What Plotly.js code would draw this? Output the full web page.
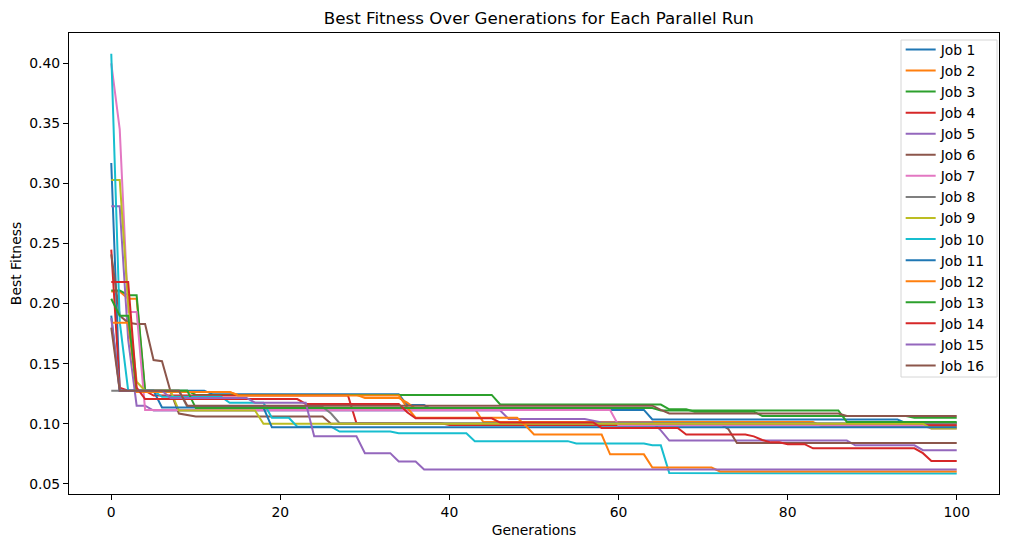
<!DOCTYPE html>
<html>
<head>
<meta charset="utf-8">
<script src="https://cdn.plot.ly/plotly-3.0.1.min.js"></script>
<style>
html,body{margin:0;padding:0;background:#fff;}
#chart{width:1010px;height:547px;}
</style>
</head>
<body>
<div id="chart"></div>
<script>
// Generations 0..100 (rows below hold 10 generations each)
const generations = [0,1,2,3,4,5,6,7,8,9,10,11,12,13,14,15,16,17,18,19,20,21,22,23,24,25,26,27,28,29,30,31,32,33,34,35,36,37,38,39,40,41,42,43,44,45,46,47,48,49,50,51,52,53,54,55,56,57,58,59,60,61,62,63,64,65,66,67,68,69,70,71,72,73,74,75,76,77,78,79,80,81,82,83,84,85,86,87,88,89,90,91,92,93,94,95,96,97,98,99,100];

const jobNames = ["Job 1","Job 2","Job 3","Job 4","Job 5","Job 6","Job 7","Job 8","Job 9","Job 10","Job 11","Job 12","Job 13","Job 14","Job 15","Job 16"];

const job1 = [
0.317,0.1275,0.1275,0.1275,0.1275,0.1275,0.1275,0.1275,0.1275,0.1275,
0.1275,0.1275,0.1245,0.1245,0.1245,0.1245,0.1245,0.1245,0.1245,0.1245,
0.1245,0.1245,0.1245,0.1245,0.1245,0.1245,0.1245,0.1245,0.1245,0.1245,
0.1245,0.1245,0.1245,0.1245,0.1245,0.1155,0.1155,0.1155,0.1115,0.1115,
0.1115,0.1115,0.1115,0.1115,0.1115,0.1115,0.1115,0.1115,0.1115,0.1115,
0.1115,0.1115,0.1115,0.1115,0.1115,0.1115,0.1115,0.1115,0.1115,0.1115,
0.1115,0.1115,0.1115,0.1115,0.1035,0.1035,0.1035,0.1035,0.1035,0.1035,
0.1035,0.1035,0.1035,0.1035,0.1035,0.1035,0.1035,0.1035,0.1035,0.1035,
0.1035,0.1035,0.1035,0.1035,0.1035,0.1035,0.1035,0.1035,0.1035,0.1035,
0.1035,0.1035,0.1035,0.1035,0.1005,0.1005,0.1005,0.1005,0.1005,0.1005,
0.1005];

const job2 = [
0.21,0.21,0.204,0.204,0.1265,0.1265,0.1265,0.1265,0.1265,0.1265,
0.1265,0.1265,0.1265,0.1265,0.1265,0.124,0.124,0.124,0.124,0.124,
0.124,0.124,0.124,0.124,0.124,0.124,0.124,0.124,0.124,0.124,
0.1215,0.1215,0.1215,0.1215,0.1215,0.1175,0.1125,0.1125,0.1125,0.1125,
0.1125,0.1125,0.1125,0.1125,0.1015,0.1015,0.1015,0.1015,0.1015,0.1015,
0.1015,0.1015,0.1015,0.1015,0.1015,0.1015,0.1015,0.1015,0.1015,0.1015,
0.1015,0.1015,0.1015,0.1015,0.1015,0.1015,0.1015,0.1015,0.1015,0.1015,
0.1015,0.1015,0.1015,0.1015,0.1015,0.1015,0.1015,0.1015,0.1015,0.1015,
0.1015,0.1015,0.1015,0.1015,0.098,0.098,0.098,0.098,0.098,0.098,
0.098,0.098,0.098,0.098,0.098,0.098,0.098,0.098,0.098,0.098,
0.098];

const job3 = [
0.211,0.211,0.207,0.207,0.1275,0.1275,0.1275,0.1275,0.1275,0.1275,
0.124,0.124,0.124,0.124,0.124,0.124,0.124,0.124,0.124,0.124,
0.124,0.124,0.124,0.124,0.124,0.124,0.124,0.124,0.124,0.124,
0.124,0.124,0.124,0.124,0.124,0.124,0.124,0.124,0.124,0.124,
0.124,0.124,0.124,0.124,0.124,0.124,0.116,0.116,0.116,0.116,
0.116,0.116,0.116,0.116,0.116,0.116,0.116,0.116,0.116,0.116,
0.116,0.116,0.116,0.116,0.116,0.116,0.112,0.112,0.112,0.110,
0.110,0.110,0.110,0.110,0.110,0.110,0.110,0.1065,0.1065,0.1065,
0.1065,0.1065,0.1065,0.1065,0.1065,0.1065,0.1065,0.1065,0.1065,0.1065,
0.1065,0.1065,0.1065,0.1065,0.1065,0.105,0.105,0.105,0.105,0.105,
0.105];

const job4 = [
0.245,0.13,0.1275,0.1275,0.1275,0.1235,0.1235,0.1235,0.1235,0.1235,
0.1235,0.1235,0.1235,0.1235,0.1235,0.1235,0.1235,0.1235,0.1235,0.1235,
0.1235,0.1235,0.1235,0.1235,0.1235,0.1235,0.1235,0.1235,0.1235,0.1003,
0.1003,0.1003,0.1003,0.1003,0.1003,0.1003,0.1003,0.1003,0.1003,0.1003,
0.099,0.099,0.099,0.099,0.099,0.099,0.099,0.099,0.099,0.099,
0.099,0.099,0.099,0.099,0.099,0.099,0.099,0.099,0.099,0.099,
0.099,0.099,0.099,0.099,0.099,0.099,0.099,0.099,0.099,0.099,
0.099,0.099,0.099,0.099,0.099,0.099,0.099,0.099,0.099,0.099,
0.099,0.099,0.099,0.099,0.099,0.099,0.099,0.099,0.099,0.099,
0.099,0.099,0.099,0.099,0.099,0.099,0.099,0.099,0.099,0.099,
0.099];

const job5 = [
0.281,0.281,0.17,0.115,0.115,0.111,0.111,0.111,0.111,0.111,
0.111,0.111,0.111,0.111,0.111,0.111,0.111,0.111,0.111,0.111,
0.111,0.111,0.111,0.111,0.111,0.111,0.111,0.111,0.111,0.111,
0.111,0.111,0.111,0.111,0.111,0.111,0.111,0.111,0.111,0.111,
0.111,0.111,0.111,0.111,0.111,0.111,0.111,0.104,0.104,0.104,
0.104,0.104,0.104,0.104,0.104,0.104,0.104,0.1025,0.101,0.101,
0.101,0.101,0.101,0.101,0.101,0.0945,0.086,0.086,0.086,0.086,
0.086,0.086,0.086,0.086,0.086,0.086,0.086,0.086,0.086,0.086,
0.086,0.086,0.086,0.086,0.086,0.086,0.086,0.086,0.082,0.082,
0.082,0.082,0.082,0.082,0.082,0.082,0.078,0.078,0.078,0.078,
0.078];

const job6 = [
0.241,0.19,0.184,0.183,0.183,0.153,0.152,0.127,0.1085,0.107,
0.106,0.106,0.106,0.106,0.106,0.106,0.106,0.106,0.106,0.106,
0.106,0.106,0.106,0.106,0.106,0.106,0.100,0.100,0.100,0.100,
0.100,0.100,0.100,0.100,0.100,0.100,0.100,0.100,0.100,0.100,
0.100,0.100,0.100,0.100,0.100,0.100,0.100,0.100,0.100,0.100,
0.100,0.100,0.100,0.100,0.100,0.100,0.100,0.100,0.100,0.100,
0.100,0.100,0.100,0.100,0.100,0.100,0.100,0.100,0.100,0.100,
0.100,0.100,0.100,0.0955,0.084,0.084,0.084,0.084,0.084,0.084,
0.084,0.084,0.084,0.084,0.084,0.084,0.084,0.084,0.084,0.084,
0.084,0.084,0.084,0.084,0.084,0.084,0.084,0.084,0.084,0.084,
0.084];

const job7 = [
0.40,0.345,0.193,0.193,0.1115,0.1115,0.1115,0.1115,0.1115,0.1115,
0.1115,0.1115,0.1115,0.1115,0.1115,0.1115,0.1115,0.1115,0.1115,0.1115,
0.1115,0.1115,0.1115,0.1115,0.1115,0.1115,0.1115,0.1115,0.1115,0.1115,
0.1115,0.1115,0.1115,0.1115,0.1115,0.1115,0.1115,0.1115,0.1115,0.1115,
0.1115,0.1115,0.1115,0.1115,0.1115,0.1115,0.1115,0.1115,0.1115,0.1115,
0.1115,0.1115,0.1115,0.1115,0.1115,0.1115,0.1115,0.1115,0.1115,0.1115,
0.0985,0.0985,0.0985,0.0985,0.0985,0.0985,0.0985,0.0985,0.0985,0.0985,
0.0985,0.0985,0.0985,0.0985,0.0985,0.0985,0.0985,0.0985,0.0985,0.0985,
0.0985,0.0985,0.0985,0.0985,0.0985,0.0985,0.0985,0.0985,0.0985,0.0985,
0.0985,0.0985,0.0985,0.0985,0.0985,0.0985,0.0985,0.096,0.096,0.096,
0.096];

const job8 = [
0.1275,0.1275,0.1275,0.1275,0.1275,0.1275,0.1275,0.1275,0.1275,0.114,
0.114,0.114,0.114,0.114,0.114,0.114,0.114,0.114,0.114,0.114,
0.114,0.114,0.114,0.114,0.114,0.114,0.1085,0.1005,0.1005,0.1005,
0.1005,0.1005,0.1005,0.1005,0.1005,0.1005,0.1005,0.1005,0.1005,0.1005,
0.1005,0.1005,0.1005,0.1005,0.1005,0.1005,0.1005,0.1005,0.1005,0.1005,
0.1005,0.1005,0.1005,0.1005,0.1005,0.1005,0.1005,0.1005,0.1005,0.1005,
0.1005,0.1005,0.1005,0.1005,0.1005,0.1005,0.1005,0.1005,0.1005,0.1005,
0.1005,0.1005,0.1005,0.1005,0.1005,0.1005,0.1005,0.1005,0.1005,0.1005,
0.1005,0.1005,0.1005,0.1005,0.1005,0.1005,0.1005,0.1005,0.1005,0.1005,
0.1005,0.1005,0.1005,0.1005,0.1005,0.1005,0.1005,0.1005,0.1005,0.1005,
0.1005];

const job9 = [
0.303,0.303,0.2,0.135,0.1275,0.1275,0.1275,0.1275,0.111,0.111,
0.111,0.111,0.111,0.111,0.111,0.111,0.111,0.111,0.100,0.100,
0.100,0.100,0.100,0.100,0.100,0.100,0.100,0.100,0.100,0.100,
0.100,0.100,0.100,0.100,0.100,0.100,0.100,0.100,0.100,0.100,
0.100,0.100,0.100,0.100,0.100,0.100,0.100,0.100,0.100,0.100,
0.100,0.100,0.100,0.100,0.100,0.100,0.100,0.100,0.100,0.100,
0.100,0.100,0.100,0.100,0.100,0.100,0.100,0.100,0.100,0.100,
0.100,0.100,0.100,0.100,0.100,0.100,0.100,0.100,0.100,0.100,
0.100,0.100,0.100,0.100,0.100,0.100,0.100,0.100,0.100,0.100,
0.100,0.100,0.100,0.100,0.100,0.100,0.100,0.096,0.096,0.096,
0.096];

const job10 = [
0.408,0.185,0.1275,0.1275,0.1275,0.1275,0.1225,0.1225,0.1225,0.1225,
0.1225,0.1225,0.1225,0.1225,0.1175,0.1175,0.1175,0.1175,0.1175,0.105,
0.105,0.105,0.0975,0.0975,0.0975,0.0975,0.0975,0.0935,0.0935,0.0935,
0.0935,0.0935,0.0935,0.0935,0.092,0.092,0.092,0.092,0.092,0.092,
0.092,0.092,0.092,0.0855,0.0855,0.0855,0.0855,0.0855,0.0855,0.0855,
0.0855,0.0855,0.0855,0.0855,0.0855,0.0835,0.0835,0.0835,0.0835,0.0835,
0.0835,0.0835,0.0835,0.0835,0.082,0.082,0.059,0.059,0.059,0.059,
0.059,0.059,0.059,0.059,0.059,0.059,0.059,0.059,0.059,0.059,
0.059,0.059,0.059,0.059,0.059,0.059,0.059,0.059,0.059,0.059,
0.059,0.059,0.059,0.059,0.059,0.0585,0.0585,0.0585,0.0585,0.0585,
0.0585];

const job11 = [
0.19,0.1275,0.1275,0.1275,0.1275,0.1275,0.1135,0.1135,0.1135,0.1135,
0.1135,0.1135,0.1135,0.1135,0.1135,0.1135,0.1135,0.1135,0.1135,0.097,
0.097,0.097,0.097,0.097,0.097,0.097,0.097,0.097,0.097,0.097,
0.097,0.097,0.097,0.097,0.097,0.097,0.097,0.097,0.097,0.097,
0.097,0.097,0.097,0.097,0.097,0.097,0.097,0.097,0.097,0.097,
0.097,0.097,0.097,0.097,0.097,0.097,0.097,0.097,0.097,0.097,
0.097,0.097,0.097,0.097,0.097,0.097,0.097,0.097,0.097,0.097,
0.097,0.097,0.097,0.097,0.097,0.097,0.097,0.097,0.097,0.097,
0.097,0.097,0.097,0.097,0.097,0.097,0.097,0.097,0.097,0.097,
0.097,0.097,0.097,0.097,0.097,0.097,0.097,0.097,0.097,0.097,
0.097];

const job12 = [
0.184,0.184,0.184,0.1265,0.1265,0.1265,0.1265,0.1265,0.1265,0.1265,
0.1265,0.1265,0.1265,0.1265,0.1265,0.1235,0.1235,0.1235,0.1235,0.1235,
0.1235,0.1235,0.1235,0.1235,0.1235,0.1235,0.1235,0.1235,0.1235,0.1235,
0.1235,0.1235,0.1235,0.1235,0.1235,0.1135,0.105,0.105,0.105,0.105,
0.105,0.105,0.105,0.105,0.105,0.105,0.105,0.105,0.105,0.0985,
0.091,0.091,0.091,0.091,0.091,0.091,0.091,0.091,0.091,0.0745,
0.0745,0.0745,0.0745,0.0745,0.0635,0.0635,0.0635,0.0635,0.0635,0.0635,
0.0635,0.0635,0.0603,0.0603,0.0603,0.0603,0.0603,0.0603,0.0603,0.0603,
0.0603,0.0603,0.0603,0.0603,0.0603,0.0603,0.0603,0.0603,0.0603,0.0603,
0.0603,0.0603,0.0603,0.0603,0.0603,0.0603,0.0603,0.0603,0.0603,0.0603,
0.0603];

const job13 = [
0.204,0.19,0.19,0.1275,0.1275,0.1275,0.1275,0.1275,0.1275,0.1275,
0.113,0.113,0.113,0.113,0.113,0.113,0.113,0.113,0.113,0.113,
0.113,0.113,0.113,0.113,0.113,0.113,0.113,0.113,0.113,0.113,
0.113,0.113,0.113,0.113,0.113,0.113,0.113,0.113,0.113,0.113,
0.113,0.113,0.113,0.113,0.113,0.113,0.113,0.113,0.113,0.113,
0.113,0.113,0.113,0.113,0.113,0.113,0.113,0.113,0.113,0.113,
0.113,0.113,0.113,0.113,0.113,0.111,0.111,0.111,0.111,0.111,
0.111,0.111,0.111,0.111,0.111,0.111,0.111,0.111,0.111,0.111,
0.111,0.111,0.111,0.111,0.111,0.111,0.111,0.1015,0.1015,0.1015,
0.1015,0.1015,0.1015,0.1015,0.1015,0.1015,0.1015,0.1015,0.1015,0.1015,
0.1015];

const job14 = [
0.218,0.218,0.218,0.13,0.1205,0.1205,0.1205,0.1205,0.1205,0.1205,
0.1205,0.1205,0.1205,0.1205,0.1205,0.1205,0.1205,0.1205,0.1205,0.1205,
0.1205,0.1205,0.1205,0.1165,0.1165,0.1165,0.1165,0.1165,0.1165,0.1165,
0.1165,0.1165,0.1165,0.1165,0.1165,0.1095,0.1045,0.1045,0.1045,0.1045,
0.1045,0.1045,0.1045,0.1045,0.1045,0.1045,0.101,0.101,0.101,0.101,
0.101,0.101,0.101,0.101,0.101,0.101,0.101,0.101,0.0965,0.0965,
0.0965,0.0965,0.0965,0.0965,0.0965,0.0965,0.0965,0.0965,0.091,0.091,
0.091,0.091,0.091,0.091,0.091,0.091,0.0895,0.0865,0.0845,0.0845,
0.083,0.083,0.083,0.0795,0.0795,0.0795,0.0795,0.0795,0.0795,0.0795,
0.0795,0.0795,0.0795,0.0795,0.0795,0.0795,0.0755,0.069,0.069,0.069,
0.069];

const job15 = [
0.188,0.1275,0.1275,0.1275,0.1275,0.1275,0.1275,0.1215,0.1215,0.1215,
0.1215,0.1215,0.1215,0.1215,0.1215,0.1215,0.1215,0.1175,0.1175,0.1175,
0.1175,0.1175,0.1175,0.1175,0.0895,0.0895,0.0895,0.0895,0.0895,0.0895,
0.0755,0.0755,0.0755,0.0755,0.0685,0.0685,0.0685,0.062,0.062,0.062,
0.062,0.062,0.062,0.062,0.062,0.062,0.062,0.062,0.062,0.062,
0.062,0.062,0.062,0.062,0.062,0.062,0.062,0.062,0.062,0.062,
0.062,0.062,0.062,0.062,0.062,0.062,0.062,0.062,0.062,0.062,
0.062,0.062,0.062,0.062,0.062,0.062,0.062,0.062,0.062,0.062,
0.062,0.062,0.062,0.062,0.062,0.062,0.062,0.062,0.062,0.062,
0.062,0.062,0.062,0.062,0.062,0.062,0.062,0.062,0.062,0.062,
0.062];

const job16 = [
0.180,0.1275,0.1275,0.1275,0.1275,0.1275,0.1275,0.1275,0.1275,0.115,
0.115,0.115,0.115,0.115,0.115,0.115,0.115,0.115,0.115,0.115,
0.115,0.115,0.115,0.115,0.115,0.115,0.115,0.115,0.115,0.115,
0.115,0.115,0.115,0.115,0.115,0.115,0.115,0.115,0.115,0.115,
0.115,0.115,0.115,0.115,0.115,0.115,0.115,0.115,0.115,0.115,
0.115,0.115,0.115,0.115,0.115,0.115,0.115,0.115,0.115,0.115,
0.115,0.115,0.115,0.115,0.115,0.1115,0.1085,0.1085,0.1085,0.1085,
0.1085,0.1085,0.1085,0.1085,0.1085,0.1085,0.1085,0.1085,0.1085,0.1085,
0.1085,0.1085,0.1085,0.1085,0.1085,0.1085,0.1085,0.1065,0.1065,0.1065,
0.1065,0.1065,0.1065,0.1065,0.1065,0.1065,0.1065,0.1065,0.1065,0.1065,
0.1065];

const series = [job1,job2,job3,job4,job5,job6,job7,job8,job9,job10,job11,job12,job13,job14,job15,job16];
const colors = ["#1f77b4","#ff7f0e","#2ca02c","#d62728","#9467bd","#8c564b","#e377c2","#7f7f7f","#bcbd22","#17becf"];

const traces = series.map((ys, i) => ({
  x: generations,
  y: ys,
  type: "scatter",
  mode: "lines",
  name: jobNames[i],
  line: {color: colors[i % 10], width: 2}
}));

const font = "DejaVu Sans, sans-serif";
const layout = {
  width: 1010, height: 547,
  margin: {l: 69, r: 11, t: 33, b: 53},
  paper_bgcolor: "#fff", plot_bgcolor: "#fff",
  font: {family: font, size: 13.9, color: "#000"},
  title: {text: "Best Fitness Over Generations for Each Parallel Run", font: {family: font, size: 16.7, color: "#000"},
          x: 0.5335, xanchor: "center", y: 1 - 18/547, yanchor: "middle", yref: "container"},
  xaxis: {
    range: [-5, 105], tickvals: [0,20,40,60,80,100], ticktext: ["0","20","40","60","80","100"],
    showgrid: false, zeroline: false, showline: true, mirror: true, linecolor: "#000", linewidth: 1.1,
    ticks: "outside", ticklen: 5, tickwidth: 1.1, tickcolor: "#000",
    tickfont: {family: font, size: 13.9, color: "#000"},
    title: {text: "Generations", font: {family: font, size: 13.9, color: "#000"}, standoff: 6}
  },
  yaxis: {
    range: [0.0415, 0.4253], tickvals: [0.05,0.10,0.15,0.20,0.25,0.30,0.35,0.40],
    ticktext: ["0.05","0.10","0.15","0.20","0.25","0.30","0.35","0.40"],
    showgrid: false, zeroline: false, showline: true, mirror: true, linecolor: "#000", linewidth: 1.1,
    ticks: "outside", ticklen: 5, tickwidth: 1.1, tickcolor: "#000",
    tickfont: {family: font, size: 13.9, color: "#000"},
    title: {text: "Best Fitness", font: {family: font, size: 13.9, color: "#000"}, standoff: 4}
  },
  shapes: [{
    type: "rect", xref: "paper", yref: "paper",
    x0: (901-69)/930, x1: (997-69)/930, y0: (494-377)/461, y1: (494-40)/461,
    line: {color: "#d6d6d6", width: 1}, fillcolor: "rgba(255,255,255,0.8)", layer: "above"
  }],
  legend: {
    x: 0.9932, xanchor: "right", y: 0.985, yanchor: "top",
    bgcolor: "rgba(0,0,0,0)", borderwidth: 0,
    font: {family: font, size: 13.9, color: "#000"},
    tracegroupgap: 0, maxheight: 460
  },
  showlegend: true
};

Plotly.newPlot("chart", traces, layout, {displayModeBar: false, staticPlot: true}).then(function(gd){
  // nudge legend up so its entries line up with the reference frame
  const lg = gd.querySelector(".legend");
  if (lg) {
    const t = lg.getAttribute("transform");
    const m = /translate\(([-\d.]+),\s*([-\d.]+)\)/.exec(t);
    if (m) lg.setAttribute("transform", "translate(" + (parseFloat(m[1]) - 2) + "," + (parseFloat(m[2]) - 6) + ")");
  }
});
</script>
</body>
</html>
